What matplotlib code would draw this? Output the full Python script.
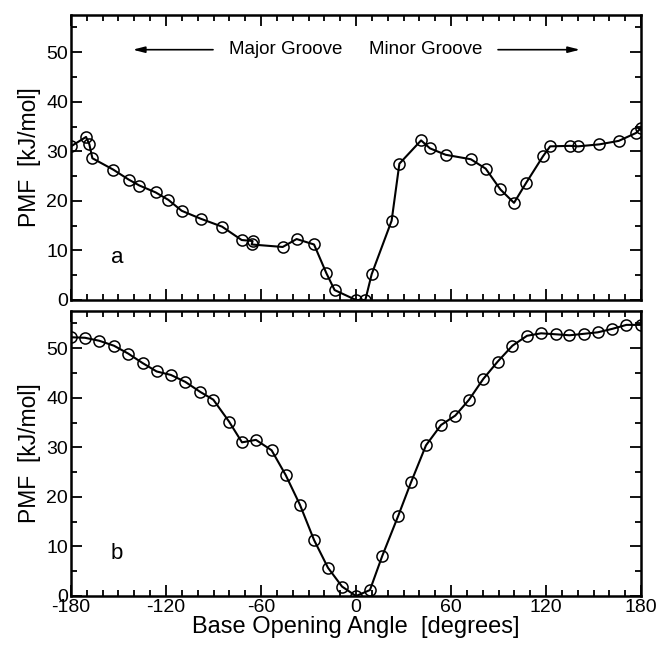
import numpy as np
import matplotlib
matplotlib.use("Agg")
import matplotlib.pyplot as plt
from matplotlib.ticker import MultipleLocator

plt.rcParams['font.family'] = ['Liberation Sans', 'DejaVu Sans']
plt.rcParams['axes.unicode_minus'] = False

# panel a
angle_a = [-180, -170.5, -168.4, -166.5, -153.3, -143.6, -136.8, -126.5, -118.5, -110.1,
           -98.1, -84.6, -72.2, -65.3, -65.9, -46.3, -37.5, -26.5, -18.7, -13.5,
           0, 5.9, 9.9, 22.5, 27.4, 41.1, 46.7, 56.6, 72.5, 81.9,
           91.2, 99.8, 107.4, 118.1, 122.6, 135.0, 140.2, 153.7, 165.9, 176.9, 180]
pmf_a = [31.0, 32.9, 31.4, 28.6, 26.3, 24.3, 23.1, 21.7, 20.2, 18.0,
         16.4, 14.8, 12.1, 11.9, 11.2, 10.7, 12.3, 11.2, 5.4, 2.0,
         0.0, 0.0, 5.2, 16.0, 27.5, 32.2, 30.6, 29.3, 28.4, 26.5,
         22.3, 19.6, 23.6, 29.0, 31.0, 31.1, 31.0, 31.4, 32.1, 33.7, 34.7]

# panel b
angle_b = [-180, -171.2, -162.2, -152.9, -143.8, -134.8, -125.9, -116.9, -107.8, -98.5,
           -90.1, -80.2, -72.0, -63.2, -53.3, -44.4, -35.4, -26.5, -17.7, -8.8,
           0, 8.8, 16.6, 26.7, 34.7, 44.2, 53.7, 62.7, 71.4, 80.4,
           89.5, 98.8, 108.0, 116.9, 126.2, 134.8, 144.0, 152.7, 161.9, 170.8, 180]
pmf_b = [52.2, 52.1, 51.5, 50.5, 48.9, 47.0, 45.3, 44.6, 43.2, 41.2,
         39.6, 35.2, 31.0, 31.5, 29.4, 24.4, 18.4, 11.3, 5.7, 1.9,
         0.0, 1.2, 8.1, 16.2, 22.9, 30.4, 34.5, 36.4, 39.6, 43.8,
         47.3, 50.5, 52.5, 53.0, 52.8, 52.6, 52.9, 53.2, 53.9, 54.7, 54.7]

fig = plt.figure(figsize=(6.59, 6.45), dpi=100)
W, H = 659, 645
axa = fig.add_axes([71 / W, 1 - 300 / H, 570 / W, 285 / H])
axb = fig.add_axes([71 / W, 1 - 596 / H, 570 / W, 285 / H])

for ax, x, y, lab in [(axa, angle_a, pmf_a, 'a'), (axb, angle_b, pmf_b, 'b')]:
    ax.plot(x, y, '-', color='black', lw=1.5, marker='o', ms=8, mfc='none',
            mec='black', mew=1.1)
    ax.set_xlim(-180, 180)
    ax.set_ylim(0, 57.5)
    ax.xaxis.set_major_locator(MultipleLocator(60))
    ax.xaxis.set_minor_locator(MultipleLocator(10))
    ax.yaxis.set_major_locator(MultipleLocator(10))
    ax.yaxis.set_minor_locator(MultipleLocator(5))
    ax.tick_params(which='both', direction='in', top=True, right=True,
                   labelsize=14, width=1.3, pad=2)
    ax.tick_params(which='major', length=8)
    ax.tick_params(which='minor', length=4)
    for s in ax.spines.values():
        s.set_linewidth(1.8)
    ax.set_ylabel('PMF  [kJ/mol]', fontsize=16.5, labelpad=4)
    ax.text(-151, 8.6, lab, fontsize=16, ha='center', va='center')

axa.tick_params(labelbottom=False)
axb.set_xlabel('Base Opening Angle  [degrees]', fontsize=17, labelpad=0)

axa.text(-44.5, 50.5, 'Major Groove', fontsize=13.5, ha='center', va='center')
axa.text(44, 50.5, 'Minor Groove', fontsize=13.5, ha='center', va='center')
arrow = dict(arrowstyle='-|>,head_length=0.7,head_width=0.18', color='black',
             lw=1.2, shrinkA=0, shrinkB=0)
axa.annotate('', xy=(-141, 50.5), xytext=(-90.3, 50.5), arrowprops=arrow)
axa.annotate('', xy=(141.5, 50.5), xytext=(89.7, 50.5), arrowprops=arrow)

fig.savefig('out.png', dpi=100)
